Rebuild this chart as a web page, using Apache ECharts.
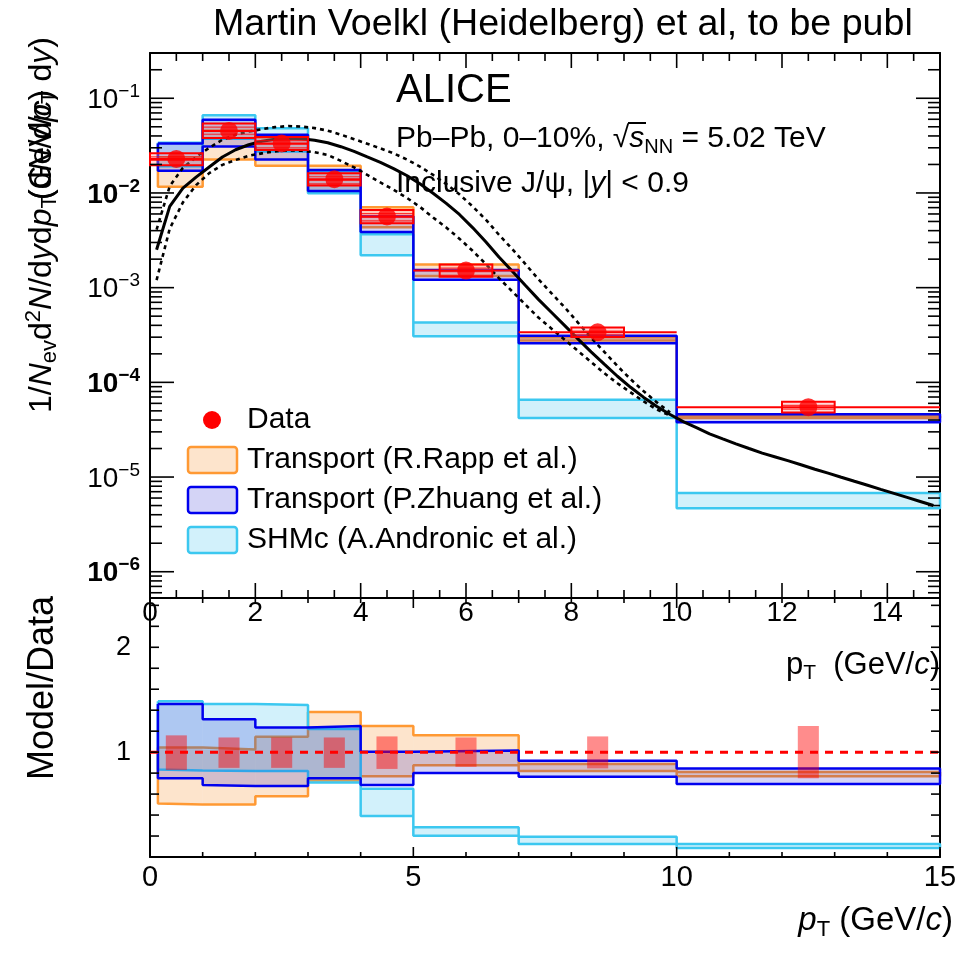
<!DOCTYPE html>
<html>
<head>
<meta charset="utf-8">
<script src="https://cdn.jsdelivr.net/npm/echarts@6/dist/echarts.min.js"></script>
<style>
  html, body { margin: 0; padding: 0; background: #fff; }
  #main { width: 974px; height: 957px; }
</style>
</head>
<body>
<div id="main"></div>
<script>
// ---- measurement: inclusive J/psi yield, Pb-Pb 0-10%, pT bins in GeV/c ----
const binLow  = [0, 1, 2, 3, 4, 5, 7, 10];
const binHigh = [1, 2, 3, 4, 5, 7, 10, 15];
const dataX   = [0.5, 1.5, 2.5, 3.5, 4.5, 6, 8.5, 12.5];
const dataY   = [0.02286, 0.04518, 0.03334, 0.01396, 0.005648, 0.001514, 3.38e-4, 5.46e-5];
// relative systematic uncertainty (boxes in the spectrum panel)
const sysUp   = [0.15, 0.20, 0.17, 0.16, 0.17, 0.16, 0.12, 0.14];
const sysDown = [0.14, 0.16, 0.15, 0.14, 0.15, 0.14, 0.11, 0.12];
// relative data uncertainty drawn around unity in the ratio panel
const ratioErrLow  = [0.83, 0.85, 0.85, 0.85, 0.84, 0.86, 0.845, 0.75];
const ratioErrHigh = [1.16, 1.14, 1.14, 1.14, 1.15, 1.14, 1.15, 1.25];

// ---- model predictions, given as Model/Data bands per bin ----
const modelBinLow = [0.15, 1, 2, 3, 4, 5, 7, 10];
const rappLow    = [0.51, 0.50, 0.58, 0.73, 0.77, 0.876, 0.82, 0.77];
const rappHigh   = [1.045, 1.026, 1.146, 1.384, 1.25, 1.162, 0.886, 0.81];
const zhuangLow  = [0.75, 0.686, 0.676, 0.75, 0.686, 0.80, 0.765, 0.695];
const zhuangHigh = [1.46, 1.314, 1.235, 1.25, 1.003, 1.016, 0.917, 0.845];
const shmcLow    = [0.835, 0.826, 0.82, 0.71, 0.39, 0.203, 0.124, 0.086];
const shmcHigh   = [1.486, 1.46, 1.45, 1.22, 0.65, 0.283, 0.194, 0.124];

// ---- fine-binned reference spectrum, values at the centres of 0.25 GeV/c bins ----
const curveBinWidth = 0.25;
const curveCentral = [
  2.51e-3, 7.21e-3, 1.122e-2, 1.47e-2, 1.88e-2, 2.40e-2, 2.86e-2, 3.23e-2, 3.52e-2, 3.70e-2,
  3.79e-2, 3.74e-2, 3.61e-2, 3.39e-2, 3.08e-2, 2.75e-2, 2.40e-2, 2.10e-2, 1.81e-2, 1.53e-2,
  1.25e-2, 9.93e-3, 7.76e-3, 5.93e-3, 4.31e-3, 3.05e-3, 2.11e-3, 1.50e-3, 1.06e-3, 7.52e-4,
  5.46e-4, 3.97e-4, 2.88e-4, 2.10e-4, 1.56e-4, 1.16e-4, 8.87e-5, 6.93e-5, 5.56e-5, 4.57e-5,
  3.85e-5, 3.32e-5, 2.86e-5, 2.53e-5, 2.24e-5, 2.00e-5, 1.79e-5, 1.63e-5, 1.48e-5, 1.34e-5,
  1.21e-5, 1.10e-5, 9.95e-6, 9.02e-6, 8.18e-6, 7.41e-6, 6.72e-6, 6.09e-6, 5.52e-6, 5.00e-6
];
const curveUpper = [
  4.10e-3, 1.18e-2, 1.84e-2, 2.40e-2, 3.00e-2, 3.65e-2, 4.13e-2, 4.45e-2, 4.72e-2, 4.96e-2,
  5.09e-2, 5.02e-2, 4.84e-2, 4.55e-2, 4.13e-2, 3.70e-2, 3.31e-2, 2.96e-2, 2.62e-2, 2.26e-2,
  1.90e-2, 1.55e-2, 1.24e-2, 9.68e-3, 7.21e-3, 5.24e-3, 3.62e-3, 2.57e-3, 1.78e-3, 1.23e-3,
  8.71e-4, 6.18e-4, 4.28e-4, 2.96e-4, 2.10e-4, 1.49e-4, 1.08e-4, 8.04e-5, 6.14e-5, 4.80e-5
];
const curveLower = [
  1.20e-3, 4.20e-3, 7.96e-3, 1.21e-2, 1.62e-2, 1.98e-2, 2.23e-2, 2.47e-2, 2.62e-2, 2.75e-2,
  2.82e-2, 2.79e-2, 2.69e-2, 2.52e-2, 2.18e-2, 1.86e-2, 1.55e-2, 1.29e-2, 1.08e-2, 8.89e-3,
  7.13e-3, 5.51e-3, 4.31e-3, 3.29e-3, 2.45e-3, 1.78e-3, 1.26e-3, 9.16e-4, 6.65e-4, 4.83e-4,
  3.69e-4, 2.81e-4, 2.15e-4, 1.64e-4, 1.25e-4, 9.78e-5, 7.84e-5, 6.28e-5, 5.16e-5, 4.46e-5
];

// ---- axis labels ----
const topXLabels    = [0, 2, 4, 6, 8, 10, 12, 14];
const bottomXLabels = [0, 5, 10, 15];
const ratioYLabels  = [1, 2];
const logDecades    = [1e-6, 1e-5, 1e-4, 1e-3, 1e-2, 1e-1];

const FONT = '"Liberation Sans", Arial, Helvetica, sans-serif';
const Y_MIN = 5.28e-7, Y_MAX = 0.3006, RATIO_MAX = 2.47;

const ORANGE = { fill: 'rgba(245,120,0,0.20)', stroke: '#ff9933' };
const BLUE   = { fill: 'rgba(0,0,200,0.17)',   stroke: '#0000ee' };
const CYAN   = { fill: 'rgba(30,185,235,0.20)', stroke: '#3cc8f0' };

// bins [x0, x1, low, high] of a model band; scale = data yields or 1 for the ratio
function bandBins(lo, hi, scale) {
  return modelBinLow.map((x0, i) => {
    const s = scale ? scale[i] : 1;
    return [x0, binHigh[i], lo[i] * s, hi[i] * s];
  });
}
// closed step outline around a band
function bandOutline(bins) {
  const pts = [];
  bins.forEach(b => { pts.push([b[0], b[3]], [b[1], b[3]]); });
  for (let i = bins.length - 1; i >= 0; i--) pts.push([bins[i][1], bins[i][2]], [bins[i][0], bins[i][2]]);
  pts.push([bins[0][0], bins[0][3]]);
  return pts;
}
function bandSeries(bins, xi, yi, col, z) {
  return [
    {
      type: 'custom', xAxisIndex: xi, yAxisIndex: yi, z, silent: true,
      data: bins, encode: { x: [0, 1], y: [2, 3] },
      renderItem(params, api) {
        const a = api.coord([api.value(0), api.value(3)]);
        const b = api.coord([api.value(1), api.value(2)]);
        return { type: 'rect', shape: { x: a[0], y: a[1], width: b[0] - a[0], height: b[1] - a[1] },
                 style: { fill: col.fill } };
      }
    },
    {
      type: 'line', xAxisIndex: xi, yAxisIndex: yi, z: z + 1, silent: true,
      data: bandOutline(bins), symbol: 'none',
      lineStyle: { color: col.stroke, width: 2.5 }
    }
  ];
}
// curve points at bin centres
function curvePoints(vals) {
  return vals.map((v, i) => [(i + 0.5) * curveBinWidth, v]);
}
// inward ticks on both sides of a frame
function frameTicks(xi, yi, axis, ticks) {
  return {
    type: 'custom', xAxisIndex: xi, yAxisIndex: yi, z: 40, silent: true,
    data: ticks, encode: { x: 0, y: 1 },
    renderItem(params, api) {
      const cs = params.coordSys;
      const len = api.value(2);
      const st = { stroke: '#000', lineWidth: 1.6 };
      if (axis === 'x') {
        const px = api.coord([api.value(0), api.value(1)])[0];
        const yb = cs.y + cs.height, yt = cs.y;
        return { type: 'group', children: [
          { type: 'line', shape: { x1: px, y1: yb, x2: px, y2: yb - len }, style: st },
          { type: 'line', shape: { x1: px, y1: yt, x2: px, y2: yt + len }, style: st }
        ] };
      }
      const py = api.coord([api.value(0), api.value(1)])[1];
      const xl = cs.x, xr = cs.x + cs.width;
      return { type: 'group', children: [
        { type: 'line', shape: { x1: xl, y1: py, x2: xl + len, y2: py }, style: st },
        { type: 'line', shape: { x1: xr, y1: py, x2: xr - len, y2: py }, style: st }
      ] };
    }
  };
}

// tick positions
const topXTicks = [];
for (let k = 0; k <= 30; k++) { const v = k * 0.5; topXTicks.push([v, 1e-3, (v % 2 === 0) ? 15 : 8]); }
const topYTicks = [];
logDecades.forEach(d => topYTicks.push([1, d, 24]));
for (let e = -7; e <= -1; e++) {
  for (let m = 2; m <= 9; m++) {
    const v = m * Math.pow(10, e);
    if (v > Y_MIN && v < Y_MAX) topYTicks.push([1, v, 12]);
  }
}
const botXTicks = [];
for (let v = 0; v <= 15; v++) botXTicks.push([v, 1, (v % 5 === 0) ? 10 : 5]);
const ratioYTicks = [];
for (let k = 1; k <= 12; k++) ratioYTicks.push([1, +(k * 0.2).toFixed(1), 9]);

const frameLine = { show: true, onZero: false, lineStyle: { color: '#000', width: 2 } };
const noTick = { show: false };
const noSplit = { show: false };

const logRich = {
  b:  { fontSize: 28, lineHeight: 32, verticalAlign: 'bottom', fontFamily: FONT, color: '#000' },
  s:  { fontSize: 19, lineHeight: 14, verticalAlign: 'top', fontFamily: FONT, color: '#000' },
  bb: { fontSize: 28, lineHeight: 32, verticalAlign: 'bottom', fontFamily: FONT, color: '#000', fontWeight: 'bold' },
  sb: { fontSize: 19, lineHeight: 14, verticalAlign: 'top', fontFamily: FONT, color: '#000', fontWeight: 'bold' }
};

const textRich = (size) => ({
  it:  { fontSize: size, lineHeight: size + 6, fontStyle: 'italic', fontFamily: FONT, fill: '#000' },
  sub: { fontSize: Math.round(size * 0.68), lineHeight: Math.round(size * 0.6), verticalAlign: 'bottom', fontFamily: FONT, fill: '#000' },
  sup: { fontSize: Math.round(size * 0.68), lineHeight: Math.round(size * 0.45), verticalAlign: 'top', fontFamily: FONT, fill: '#000' }
});
function label(x, y, text, size, extra) {
  return Object.assign({
    type: 'text', x, y, z: 60, silent: true,
    style: { text, fontSize: size, lineHeight: size + 6, fontFamily: FONT, fill: '#000',
             align: 'left', verticalAlign: 'middle', rich: textRich(size) }
  }, extra || {});
}

const topRapp   = bandBins(rappLow, rappHigh, dataY);
const topZhuang = bandBins(zhuangLow, zhuangHigh, dataY);
const topShmc   = bandBins(shmcLow, shmcHigh, dataY);
const ratRapp   = bandBins(rappLow, rappHigh);
const ratZhuang = bandBins(zhuangLow, zhuangHigh);
const ratShmc   = bandBins(shmcLow, shmcHigh);

const series = [].concat(
  bandSeries(topRapp, 0, 0, ORANGE, 2),
  bandSeries(topShmc, 0, 0, CYAN, 4),
  bandSeries(topZhuang, 0, 0, BLUE, 6),
  [
    { type: 'line', xAxisIndex: 0, yAxisIndex: 0, z: 9, silent: true, symbol: 'none',
      data: curvePoints(curveLower), lineStyle: { color: '#000', width: 2.6, type: [4, 4] } },
    { type: 'line', xAxisIndex: 0, yAxisIndex: 0, z: 9, silent: true, symbol: 'none',
      data: curvePoints(curveUpper), lineStyle: { color: '#000', width: 2.6, type: [4, 4] } },
    { type: 'line', xAxisIndex: 0, yAxisIndex: 0, z: 10, silent: true, symbol: 'none',
      data: curvePoints(curveCentral), lineStyle: { color: '#000', width: 3 } },
    // systematic boxes and bin-width bars of the data
    {
      type: 'custom', xAxisIndex: 0, yAxisIndex: 0, z: 11, silent: true,
      data: dataX.map((x, i) => [x, dataY[i], binLow[i], binHigh[i], dataY[i] * (1 - sysDown[i]), dataY[i] * (1 + sysUp[i])]),
      encode: { x: 0, y: 1 },
      renderItem(params, api) {
        const x = api.value(0), y = api.value(1);
        const a = api.coord([x - 0.5, api.value(5)]);
        const b = api.coord([x + 0.5, api.value(4)]);
        const l = api.coord([api.value(2), y]);
        const r = api.coord([api.value(3), y]);
        const kids = [{ type: 'rect', shape: { x: a[0], y: a[1], width: b[0] - a[0], height: b[1] - a[1] },
                        style: { fill: 'rgba(255,150,150,0.35)', stroke: '#ff0000', lineWidth: 2 } }];
        for (let yy = a[1] + 3.6; yy < b[1] - 1.5; yy += 3.6) {
          kids.push({ type: 'line', shape: { x1: a[0], y1: yy, x2: b[0], y2: yy },
                      style: { stroke: 'rgba(255,0,0,0.75)', lineWidth: 1.2 } });
        }
        kids.push({ type: 'line', shape: { x1: l[0], y1: l[1], x2: r[0], y2: r[1] },
                    style: { stroke: '#ff0000', lineWidth: 2 } });
        return { type: 'group', children: kids };
      }
    },
    { type: 'scatter', xAxisIndex: 0, yAxisIndex: 0, z: 12, silent: true, symbol: 'circle', symbolSize: 18,
      data: dataX.map((x, i) => [x, dataY[i]]), itemStyle: { color: '#ff0000' } }
  ],
  bandSeries(ratRapp, 2, 2, ORANGE, 2),
  bandSeries(ratShmc, 2, 2, CYAN, 4),
  bandSeries(ratZhuang, 2, 2, BLUE, 6),
  [
    {
      type: 'custom', xAxisIndex: 2, yAxisIndex: 2, z: 11, silent: true,
      data: dataX.map((x, i) => [x, ratioErrLow[i], ratioErrHigh[i]]),
      encode: { x: 0, y: [1, 2] },
      renderItem(params, api) {
        const a = api.coord([api.value(0) - 0.2, api.value(2)]);
        const b = api.coord([api.value(0) + 0.2, api.value(1)]);
        return { type: 'rect', shape: { x: a[0], y: a[1], width: b[0] - a[0], height: b[1] - a[1] },
                 style: { fill: 'rgba(255,0,0,0.45)' } };
      }
    },
    { type: 'line', xAxisIndex: 2, yAxisIndex: 2, z: 12, silent: true, symbol: 'none',
      data: [[0, 1], [15, 1]], lineStyle: { color: '#ff0000', width: 3, type: [8, 7] } }
  ],
  [
    frameTicks(0, 0, 'x', topXTicks),
    frameTicks(0, 0, 'y', topYTicks),
    frameTicks(2, 2, 'x', botXTicks),
    frameTicks(2, 2, 'y', ratioYTicks)
  ]
);

const chart = echarts.init(document.getElementById('main'), null, { renderer: 'canvas' });
chart.setOption({
  animation: false,
  backgroundColor: '#ffffff',
  grid: [
    { left: 150, top: 53, width: 790, height: 545, containLabel: false, outerBoundsMode: 'none' },
    { left: 150, top: 598, width: 790, height: 259, containLabel: false, outerBoundsMode: 'none' }
  ],
  xAxis: [
    { gridIndex: 0, type: 'value', min: 0, max: 15, interval: 2, position: 'bottom',
      axisLine: frameLine, axisTick: noTick, splitLine: noSplit,
      axisLabel: { margin: 1, fontSize: 28, fontFamily: FONT, color: '#000',
                   formatter: v => topXLabels.includes(v) ? String(v) : '' } },
    { gridIndex: 0, type: 'value', min: 0, max: 15, position: 'top',
      axisLine: frameLine, axisTick: noTick, splitLine: noSplit, axisLabel: { show: false } },
    { gridIndex: 1, type: 'value', min: 0, max: 15, interval: 5, position: 'bottom',
      axisLine: frameLine, axisTick: noTick, splitLine: noSplit,
      axisLabel: { margin: 6, fontSize: 29, fontFamily: FONT, color: '#000',
                   formatter: v => bottomXLabels.includes(v) ? String(v) : '' } },
    { gridIndex: 1, type: 'value', min: 0, max: 15, position: 'top',
      axisLine: frameLine, axisTick: noTick, splitLine: noSplit, axisLabel: { show: false } }
  ],
  yAxis: [
    { gridIndex: 0, type: 'log', logBase: 10, min: Y_MIN, max: Y_MAX, position: 'left',
      axisLine: frameLine, axisTick: noTick, splitLine: noSplit, minorTick: { show: false },
      axisLabel: { margin: 10, rich: logRich,
        formatter: v => {
          const lg = Math.log10(v), e = Math.round(lg);
          if (Math.abs(lg - e) > 1e-6 || !logDecades.some(d => Math.abs(Math.log10(d) - e) < 1e-6)) return '';
          return (e % 2 === 0) ? '{bb|10}{sb|\u2212' + (-e) + '}' : '{b|10}{s|\u2212' + (-e) + '}';
        } } },
    { gridIndex: 0, type: 'log', logBase: 10, min: Y_MIN, max: Y_MAX, position: 'right',
      axisLine: frameLine, axisTick: noTick, splitLine: noSplit, axisLabel: { show: false } },
    { gridIndex: 1, type: 'value', min: 0, max: RATIO_MAX, interval: 1, position: 'left',
      axisLine: frameLine, axisTick: noTick, splitLine: noSplit,
      axisLabel: { margin: 19, fontSize: 27, fontFamily: FONT, color: '#000',
                   formatter: v => ratioYLabels.includes(v) ? String(v) : '' } },
    { gridIndex: 1, type: 'value', min: 0, max: RATIO_MAX, position: 'right',
      axisLine: frameLine, axisTick: noTick, splitLine: noSplit, axisLabel: { show: false } }
  ],
  series,
  graphic: [
    label(213, 25, 'Martin Voelkl (Heidelberg) et al, to be publ', 37.6),
    label(396, 91, 'ALICE', 40),
    label(396, 139, 'Pb\u2013Pb, 0\u201310%, \u221A{it|s}{sub|NN} = 5.02 TeV', 30),
    { type: 'line', z: 60, silent: true, shape: { x1: 628, y1: 123, x2: 646, y2: 123 },
      style: { stroke: '#000', lineWidth: 2 } },
    label(396, 184, 'Inclusive J/\u03C8, |{it|y}| < 0.9', 30),
    // legend
    { type: 'circle', z: 60, silent: true, shape: { cx: 212, cy: 420, r: 9 }, style: { fill: '#ff0000' } },
    label(247, 420, 'Data', 30),
    { type: 'rect', z: 60, silent: true, shape: { x: 188, y: 447, width: 49, height: 26, r: 3 },
      style: { fill: ORANGE.fill, stroke: ORANGE.stroke, lineWidth: 2.5 } },
    label(247, 460, 'Transport (R.Rapp et al.)', 30),
    { type: 'rect', z: 60, silent: true, shape: { x: 188, y: 487, width: 49, height: 26, r: 3 },
      style: { fill: BLUE.fill, stroke: BLUE.stroke, lineWidth: 2.5 } },
    label(247, 500, 'Transport (P.Zhuang et al.)', 30),
    { type: 'rect', z: 60, silent: true, shape: { x: 188, y: 527, width: 49, height: 26, r: 3 },
      style: { fill: CYAN.fill, stroke: CYAN.stroke, lineWidth: 2.5 } },
    label(247, 540, 'SHMc (A.Andronic et al.)', 30),
    // axis titles
    label(42, 413, '1/{it|N}{sub|ev}d{sup|2}{it|N}/d{it|y}d{it|p}{sub|T}', 32, { rotation: Math.PI / 2 }),
    label(42, 200, '(GeV/{it|c})', 32, { rotation: Math.PI / 2 }),
    label(42, 200, '(d{it|N}/d{it|p}{sub|T} d{it|y})', 32, { rotation: Math.PI / 2 }),
    label(43, 688, 'Model/Data', 36, { rotation: Math.PI / 2, style: { text: 'Model/Data', fontSize: 36, fontFamily: FONT, fill: '#000', align: 'center', verticalAlign: 'middle' } }),
    label(940, 665, 'p{sub|T}  (GeV/{it|c})', 31, { style: { text: 'p{sub|T}  (GeV/{it|c})', fontSize: 31, lineHeight: 37, fontFamily: FONT, fill: '#000', align: 'right', verticalAlign: 'middle', rich: textRich(31) } }),
    label(953, 921, '{it|p}{sub|T} (GeV/{it|c})', 33, { style: { text: '{it|p}{sub|T} (GeV/{it|c})', fontSize: 33, lineHeight: 39, fontFamily: FONT, fill: '#000', align: 'right', verticalAlign: 'middle', rich: textRich(33) } })
  ]
});
</script>
</body>
</html>
